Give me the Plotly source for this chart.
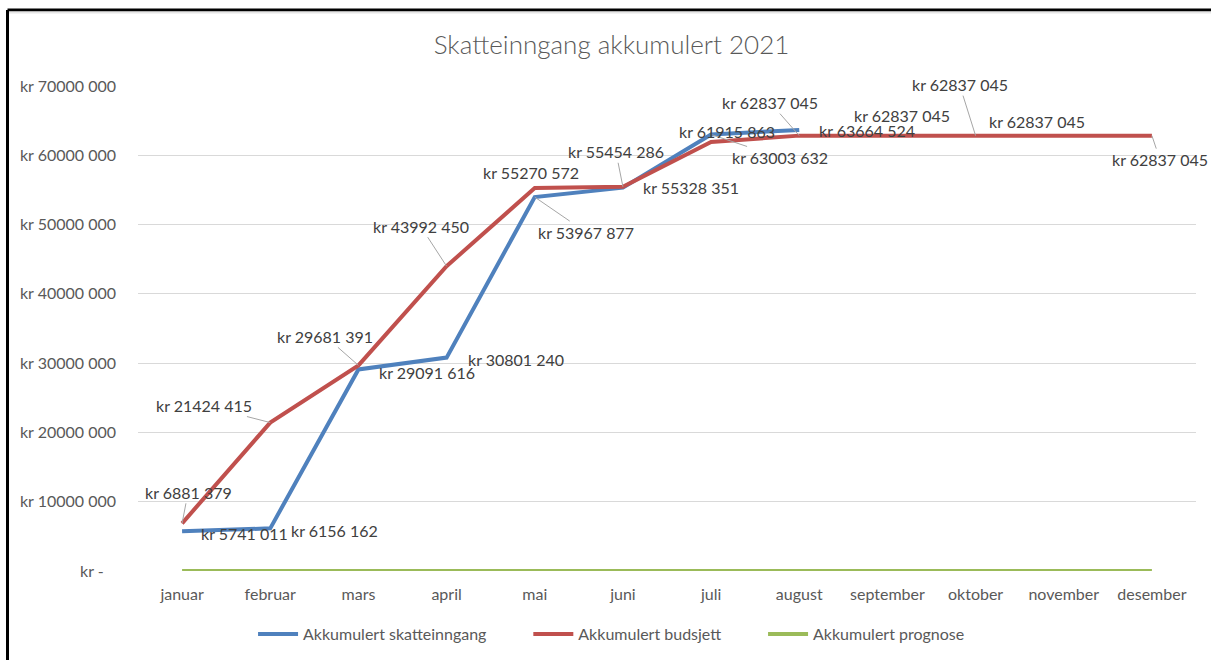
import plotly.graph_objects as go

months = ["januar", "februar", "mars", "april", "mai", "juni", "juli",
          "august", "september", "oktober", "november", "desember"]
skatteinngang = [5741011, 6156162, 29091616, 30801240, 53967877, 55328351,
                 63003632, 63664524]
budsjett = [6881379, 21424415, 29681391, 43992450, 55270572, 55454286,
            61915863, 62837045, 62837045, 62837045, 62837045, 62837045]
prognose = [0] * 12
y_ticks = [0, 10000000, 20000000, 30000000, 40000000, 50000000, 60000000, 70000000]
series_names = ["Akkumulert skatteinngang", "Akkumulert budsjett", "Akkumulert prognose"]


def kr(v):
    if v == 0:
        return "kr -\u00a0\u00a0\u00a0"
    return f"kr {v // 1000} {v % 1000:03d}"


BLUE = "#4F81BD"
RED = "#C0504D"
GREEN = "#9BBB59"
TXT = "#404040"
AX = "#595959"
FONT = "Lato"
PAD = "\u00a0" * 9  # legend spacing

# label offsets in pixels (dx, dy: text centre relative to point, screen coords), leader flag
blue_lab = [(62, 2, False), (64, 2, False), (69, 3, False), (69, 2, False),
            (51, 35, True), (68, 0, False), (69, 23, True), (68, 1, False)]
red_lab = [(6, -31, True), (-66, -17, True), (-33, -29, True), (-26, -40, True),
           (-4, -16, False), (-7, -35, True), (16, -11, False), (-29, -33, True),
           (15, -20, False), (-16, -51, True), (-27, -14, False), (8, 24, True)]

fig = go.Figure()
fig.add_trace(go.Scatter(x=months[:len(skatteinngang)], y=skatteinngang, mode="lines",
                         name=series_names[0] + PAD,
                         line=dict(color=BLUE, width=4)))
fig.add_trace(go.Scatter(x=months, y=budsjett, mode="lines",
                         name=series_names[1] + PAD,
                         line=dict(color=RED, width=4)))
fig.add_trace(go.Scatter(x=months, y=prognose, mode="lines",
                         name=series_names[2],
                         line=dict(color=GREEN, width=4)))

annotations = []
for series, labs in ((skatteinngang, blue_lab), (budsjett, red_lab)):
    for m, v, (dx, dy, lead) in zip(months, series, labs):
        if lead:
            annotations.append(dict(x=m, y=v, text=kr(v), showarrow=True,
                                    ax=dx, ay=dy, arrowhead=0, arrowwidth=1,
                                    arrowcolor="#A6A6A6", standoff=0,
                                    font=dict(family=FONT, size=16, color=TXT)))
        else:
            annotations.append(dict(x=m, y=v, text=kr(v), showarrow=False,
                                    xshift=dx, yshift=-dy,
                                    font=dict(family=FONT, size=16, color=TXT)))

L, R, T, B = 138, 15, 86, 89
W, H = 1211, 660
pw, ph = W - L - R, H - T - B


def px_x(x):
    return (x - L) / pw


def px_y(y):
    return (H - B - y) / ph


shapes = [
    dict(type="line", xref="paper", yref="paper", x0=px_x(7.5), x1=px_x(1211),
         y0=px_y(10), y1=px_y(10), line=dict(color="#000000", width=3)),
    dict(type="line", xref="paper", yref="paper", x0=px_x(7.5), x1=px_x(7.5),
         y0=px_y(10), y1=px_y(660), line=dict(color="#000000", width=3)),
    dict(type="line", xref="paper", yref="paper", x0=px_x(9), x1=px_x(1211),
         y0=px_y(12.5), y1=px_y(12.5), line=dict(color="#E6E6E6", width=2)),
]

fig.update_layout(
    width=W, height=H,
    margin=dict(l=L, r=R, t=T, b=B, pad=0),
    paper_bgcolor="white", plot_bgcolor="white",
    title=dict(text="Skatteinngang akkumulert 2021", x=0.505, xref="container",
               y=1 - 45 / H, yref="container", xanchor="center", yanchor="middle",
               font=dict(family=FONT, size=26, color=AX, weight=300)),
    font=dict(family=FONT, size=16, color=AX),
    showlegend=True,
    legend=dict(orientation="h", x=0.505, xref="container", xanchor="center",
                y=1 - 634 / H, yref="container", yanchor="middle",
                font=dict(family=FONT, size=16, color=AX), itemwidth=40,
                tracegroupgap=0),
    annotations=annotations,
    shapes=shapes,
    xaxis=dict(type="category", categoryorder="array", categoryarray=months,
               range=[-0.5, 11.5], showgrid=False, showline=False, ticks="",
               tickfont=dict(family=FONT, size=16, color=AX), ticklabelstandoff=12,
               zeroline=False, fixedrange=True),
    yaxis=dict(range=[0, 70000000], tickvals=y_ticks, ticktext=[kr(v) for v in y_ticks],
               showgrid=True, gridcolor="#D9D9D9", gridwidth=1, zeroline=False,
               showline=False, ticks="", ticklabelstandoff=21,
               tickfont=dict(family=FONT, size=16, color=AX), fixedrange=True),
)

fig.write_html("out.html", config={"displayModeBar": False},
               post_script="document.body.style.margin='0';document.body.style.overflow='hidden';")
